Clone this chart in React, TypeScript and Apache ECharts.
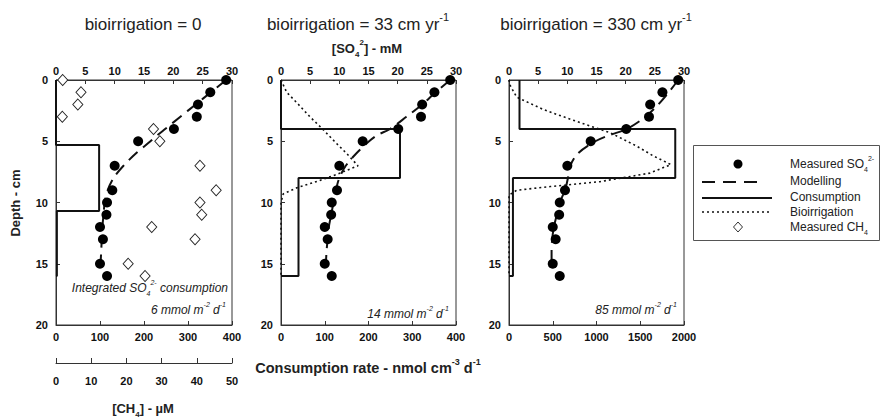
import React, { useEffect, useRef } from "react";
import * as echarts from "echarts";

// ---- Data ----
const measuredDepth = [0, 1, 2, 3, 4, 5, 7, 9, 10, 11, 12, 13, 15, 16];
const measuredSO4 = [29, 26.3, 24.2, 24, 20.1, 14, 10, 9.6, 8.7, 8.6, 7.5, 8, 7.5, 8.7];
const ch4Depth = [0, 1, 2, 3, 4, 5, 7, 9, 10, 11, 12, 13, 15, 16];
const measuredCH4 = [1.9, 7.1, 6.2, 1.8, 27.7, 29.5, 40.9, 45.5, 40.9, 41.4, 27.2, 39.5, 20.5, 25.3];

const modelDepth = [0, 1, 2, 3, 4, 4.5, 5, 6, 7, 8, 9, 10, 11, 12, 13, 14, 15];
const model0 = [29, 26.4, 23.8, 21.2, 18.6, 17.3, 16.1, 13.6, 11.5, 9.8, 8.8, 8.3, 8.1, 7.9, 7.8, 7.7, 7.6];
const model33 = [29, 26.5, 24.2, 21.5, 18.7, 16.5, 15.1, 12.9, 11.1, 10, 9.4, 9, 8.6, 8.2, 8, 7.8, 7.7];
const model330 = [29, 27.4, 25.6, 23.4, 20.2, 17.2, 14.8, 11.8, 10.5, 10.1, 9.6, 8.7, 8.2, 7.7, 7.4, 7.3, 7.3];

const consBounds0 = [0, 5.3, 10.7, 16];
const consRates0 = [0, 98, 2];
const consBounds33 = [0, 4, 8, 16];
const consRates33 = [0, 272, 40];
const consBounds330 = [0, 4, 8, 16];
const consRates330 = [120, 1900, 45];

const bioDepth33 = [0, 1, 2, 3, 4, 5, 6, 7, 7.6, 8.2, 8.8, 9.3, 10, 16];
const bio33 = [0, 13, 40, 66, 95, 122, 150, 176, 135, 89, 36, 5, 0, 0];
const bioDepth330 = [0, 0.4, 1.4, 2.4, 3.1, 3.75, 4.3, 5.4, 6.2, 6.9, 7.6, 8.3, 8.7, 9.0, 9.4, 16];
const bio330 = [0, 10, 88, 390, 660, 925, 1155, 1460, 1650, 1850, 1610, 1040, 470, 88, 0, 0];

const so4Ticks = { min: 0, max: 30, interval: 5 };
const depthTicks = { min: 0, max: 20, interval: 5 };
const consTicks = [
  { min: 0, max: 400, interval: 100 },
  { min: 0, max: 400, interval: 100 },
  { min: 0, max: 2000, interval: 500 },
];
const ch4Ticks = { min: 0, max: 50, interval: 10 };

const titles = ["bioirrigation = 0", "bioirrigation = 33 cm yr", "bioirrigation = 330 cm yr"];
const fluxes = ["6", "14", "85"];

const FONT = "Liberation Sans, Arial, sans-serif";
const AX = "#333";

function pairs(xs: number[], ys: number[]) {
  return xs.map((x, i) => [x, ys[i]]);
}
function steps(bounds: number[], rates: number[]) {
  const pts: number[][] = [];
  rates.forEach((r, i) => {
    pts.push([r, bounds[i]]);
    pts.push([r, bounds[i + 1]]);
  });
  pts.push([0, bounds[bounds.length - 1]]);
  return pts;
}

const grids = [
  { left: 56, top: 80, width: 176, height: 245 },
  { left: 281, top: 80, width: 175, height: 245 },
  { left: 509, top: 80, width: 175, height: 245 },
];

const labelStyle = {
  fontFamily: FONT, fontWeight: "bold", fontSize: 11, color: "#111",
  formatter: (v: number) => String(v),
};

export default function App() {
  const ref = useRef<HTMLDivElement>(null);
  useEffect(() => {
    if (!ref.current) return;
    const chart = echarts.init(ref.current, undefined, { renderer: "svg" });

    const xAxes: any[] = [];
    const yAxes: any[] = [];
    const series: any[] = [];
    const models = [model0, model33, model330];
    const consB = [consBounds0, consBounds33, consBounds330];
    const consR = [consRates0, consRates33, consRates330];

    grids.forEach((g, gi) => {
      const topIdx = xAxes.length;
      xAxes.push({
        type: "value", gridIndex: gi, position: "top", ...so4Ticks,
        axisLine: { show: true, lineStyle: { color: AX } },
        axisTick: { show: true, inside: true, length: 4, lineStyle: { color: AX } },
        axisLabel: { ...labelStyle, margin: 4 },
        splitLine: { show: false },
      });
      const botIdx = xAxes.length;
      xAxes.push({
        type: "value", gridIndex: gi, position: "bottom", ...consTicks[gi],
        axisLine: { show: true, onZero: false, lineStyle: { color: AX } },
        axisTick: { show: true, inside: true, length: 4, lineStyle: { color: AX } },
        axisLabel: { ...labelStyle, margin: 6 },
        splitLine: { show: false },
      });
      yAxes.push({
        type: "value", gridIndex: gi, inverse: true, ...depthTicks,
        axisLine: { show: true, onZero: false, lineStyle: { color: AX } },
        axisTick: { show: true, inside: true, length: 4, lineStyle: { color: AX } },
        axisLabel: { ...labelStyle, margin: 8 },
        splitLine: { show: false },
      });

      series.push({
        type: "line", xAxisIndex: botIdx, yAxisIndex: gi, data: steps(consB[gi], consR[gi]),
        symbol: "none", lineStyle: { color: "#111", width: 2 }, z: 2,
      });
      if (gi === 1) {
        series.push({
          type: "line", xAxisIndex: botIdx, yAxisIndex: gi, data: pairs(bio33, bioDepth33),
          symbol: "none", lineStyle: { color: "#111", width: 1.6, type: [2, 3] }, z: 2,
        });
      }
      if (gi === 2) {
        series.push({
          type: "line", xAxisIndex: botIdx, yAxisIndex: gi, data: pairs(bio330, bioDepth330),
          symbol: "none", lineStyle: { color: "#111", width: 1.6, type: [2, 3] }, z: 2,
        });
      }
      series.push({
        type: "line", xAxisIndex: topIdx, yAxisIndex: gi, data: pairs(models[gi], modelDepth),
        symbol: "none", smooth: 0.3, lineStyle: { color: "#111", width: 2, type: [12, 7] }, z: 3,
      });
      series.push({
        type: "scatter", xAxisIndex: topIdx, yAxisIndex: gi, data: pairs(measuredSO4, measuredDepth),
        symbol: "circle", symbolSize: 10, itemStyle: { color: "#000", opacity: 1 }, z: 5,
      });
      if (gi === 0) {
        const chIdx = xAxes.length;
        xAxes.push({
          type: "value", gridIndex: 0, position: "bottom", offset: 38, ...ch4Ticks,
          axisLine: { show: true, onZero: false, lineStyle: { color: AX } },
          axisTick: { show: true, inside: true, length: 5, lineStyle: { color: AX } },
          axisLabel: { ...labelStyle, margin: 12 },
          splitLine: { show: false },
        });
        series.push({
          type: "scatter", xAxisIndex: chIdx, yAxisIndex: 0, data: pairs(measuredCH4, ch4Depth),
          symbol: "diamond", symbolSize: [10, 11],
          itemStyle: { color: "#fff", borderColor: "#222", borderWidth: 1, opacity: 1 }, z: 4,
        });
      }
    });

    const txt = (x: number, y: number, text: string, opts: any = {}) => ({
      type: "text", x, y, silent: true,
      style: {
        text, fill: "#222", fontFamily: FONT, fontSize: 12,
        textAlign: "center", textVerticalAlign: "middle", ...opts,
      },
    });
    // main line height L, superscript raised / subscript lowered via token line heights
    const supRich = (size: number, weight = "normal", style = "normal") => {
      const small = Math.round(size * 0.62);
      const L = Math.round(size * 1.5);
      const base = { fontWeight: weight, fontStyle: style, fontFamily: FONT, fill: "#222" };
      return {
        m: { ...base, fontSize: size, lineHeight: L },
        sup: { ...base, fontSize: small, lineHeight: Math.round(L - size * 0.7), verticalAlign: "top" },
        sub: { ...base, fontSize: small, lineHeight: Math.round(L - size * 0.45), verticalAlign: "bottom" },
      };
    };

    const graphics: any[] = [
      txt(143, 24, titles[0], { fontSize: 17 }),
      txt(358, 24, `{m|${titles[1]}}{sup|-1}`, { rich: supRich(17) }),
      txt(596, 24, `{m|${titles[2]}}{sup|-1}`, { rich: supRich(17) }),
      txt(367, 48, "{m|[SO}{sub|4}{sup|2}{m|] - mM}", { rich: supRich(13, "bold") }),
      { ...txt(15, 203, "Depth - cm", { fontSize: 13, fontWeight: "bold" }), rotation: Math.PI / 2 },
      txt(368, 368, "{m|Consumption rate - nmol cm}{sup|-3}{m| d}{sup|-1}", { rich: supRich(14.5, "bold") }),
      txt(143, 408, "{m|[CH}{sub|4}{m|] - µM}", { rich: supRich(13, "bold") }),
      txt(228, 288, "{m|Integrated SO}{sub|4}{sup|2-}{m| consumption}", { textAlign: "right", rich: supRich(12, "normal", "italic") }),
      txt(226, 310, `{m|${fluxes[0]} mmol m}{sup|-2}{m| d}{sup|-1}`, { textAlign: "right", rich: supRich(12, "normal", "italic") }),
      txt(449, 314, `{m|${fluxes[1]} mmol m}{sup|-2}{m| d}{sup|-1}`, { textAlign: "right", rich: supRich(12, "normal", "italic") }),
      txt(677, 310, `{m|${fluxes[2]} mmol m}{sup|-2}{m| d}{sup|-1}`, { textAlign: "right", rich: supRich(12, "normal", "italic") }),
      // legend
      { type: "rect", silent: true, shape: { x: 693.5, y: 145.5, width: 186, height: 95 }, style: { fill: "#fff", stroke: "#555", lineWidth: 1 } },
      { type: "circle", silent: true, shape: { cx: 738, cy: 164, r: 4.5 }, style: { fill: "#000" } },
      { type: "line", silent: true, shape: { x1: 702, y1: 182, x2: 764, y2: 182 }, style: { stroke: "#111", lineWidth: 2, lineDash: [13, 8] } },
      { type: "line", silent: true, shape: { x1: 702, y1: 198, x2: 772, y2: 198 }, style: { stroke: "#111", lineWidth: 2 } },
      { type: "line", silent: true, shape: { x1: 702, y1: 212, x2: 772, y2: 212 }, style: { stroke: "#111", lineWidth: 1.5, lineDash: [2, 3] } },
      { type: "polygon", silent: true, shape: { points: [[738, 222], [742.5, 227], [738, 232], [733.5, 227]] }, style: { fill: "#fff", stroke: "#333", lineWidth: 1 } },
      txt(790, 164, "{m|Measured SO}{sub|4}{sup|2-}", { textAlign: "left", rich: supRich(12) }),
      txt(790, 181, "Modelling", { textAlign: "left" }),
      txt(790, 197, "Consumption", { textAlign: "left" }),
      txt(790, 212, "Bioirrigation", { textAlign: "left" }),
      txt(790, 227, "{m|Measured CH}{sub|4}", { textAlign: "left", rich: supRich(12) }),
    ];

    chart.setOption({
      animation: false,
      backgroundColor: "#fff",
      textStyle: { fontFamily: FONT },
      grid: grids.map((g) => ({ ...g, show: true, borderColor: AX, borderWidth: 1, backgroundColor: "transparent" })),
      xAxis: xAxes,
      yAxis: yAxes,
      series,
      graphic: graphics,
    });
    return () => chart.dispose();
  }, []);

  return <div ref={ref} style={{ position: "absolute", left: 0, top: 0, width: 882, height: 419 }} />;
}
